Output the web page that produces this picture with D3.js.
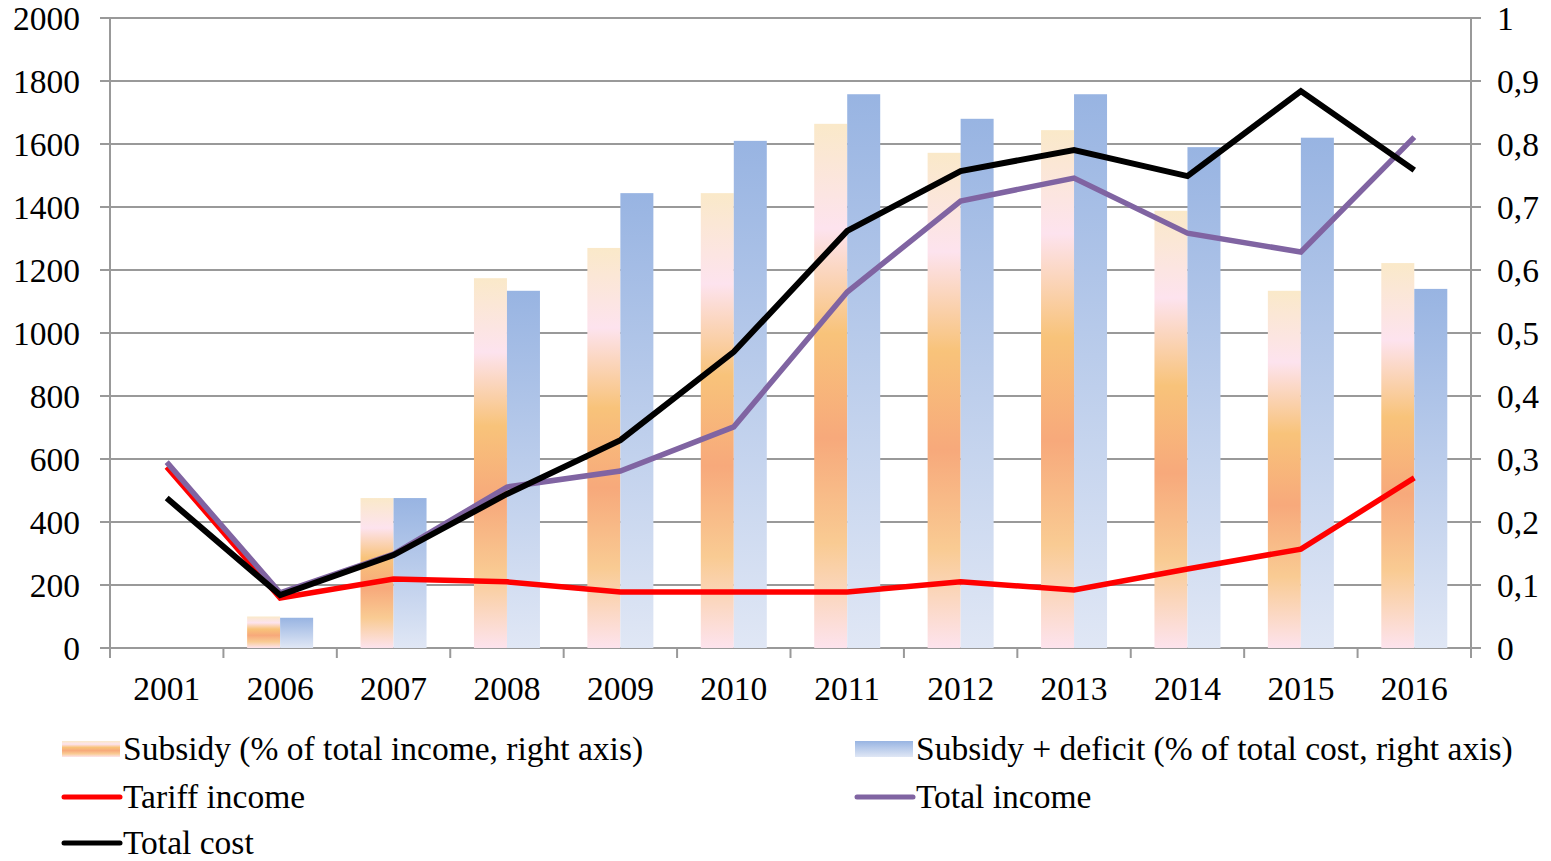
<!DOCTYPE html>
<html>
<head>
<meta charset="utf-8">
<script src="https://cdn.jsdelivr.net/npm/d3@7"></script>
<style>
  html, body { margin: 0; padding: 0; background: #fff; }
  svg { display: block; }
  text { font-family: "Liberation Serif", "Times New Roman", serif; fill: #000; }
</style>
</head>
<body>
<svg id="chart" width="1551" height="861"></svg>
<script>
// Years on the category axis
const years = ["2001", "2006", "2007", "2008", "2009", "2010", "2011", "2012", "2013", "2014", "2015", "2016"];

// Bars (share, right axis); null = no bar
const subsidyShare = [null, 0.05, 0.238, 0.587, 0.635, 0.722, 0.832, 0.786, 0.822, 0.694, 0.567, 0.611];
const subsidyDeficitShare = [null, 0.048, 0.238, 0.567, 0.722, 0.805, 0.879, 0.840, 0.879, 0.795, 0.810, 0.570];

// Lines (left axis)
const tariffIncome = [575, 159, 219, 210, 178, 178, 178, 210, 184, 251, 314, 540];
const totalIncome = [590, 175, 298, 511, 562, 702, 1130, 1419, 1492, 1317, 1257, 1622];
const totalCost = [476, 168, 295, 489, 660, 940, 1324, 1514, 1581, 1498, 1768, 1517];

// Axis ticks
const leftTicks = [0, 200, 400, 600, 800, 1000, 1200, 1400, 1600, 1800, 2000];
const rightTicks = [0, 0.1, 0.2, 0.3, 0.4, 0.5, 0.6, 0.7, 0.8, 0.9, 1];

const svg = d3.select("#chart");
const plot = { left: 110, right: 1471, top: 18, bottom: 648 };
const fontSize = 33.5;

const x = d3.scaleBand().domain(years).range([plot.left, plot.right]).padding(0);
const yL = d3.scaleLinear().domain([0, 2000]).range([plot.bottom, plot.top]);
const yR = d3.scaleLinear().domain([0, 1]).range([plot.bottom, plot.top]);

const defs = svg.append("defs");
const orangeGrad = defs.append("linearGradient").attr("id", "gOrange")
  .attr("x1", 0).attr("y1", 0).attr("x2", 0).attr("y2", 1);
[[0, "#fae9c9"], [0.2, "#fde3ee"], [0.4, "#f8c37a"], [0.6, "#f7a97b"], [0.8, "#f9cb93"], [1, "#fde3ed"]]
  .forEach(([o, c]) => orangeGrad.append("stop").attr("offset", o).attr("stop-color", c));
const blueGrad = defs.append("linearGradient").attr("id", "gBlue")
  .attr("x1", 0).attr("y1", 0).attr("x2", 0).attr("y2", 1);
[[0, "#98b4e2"], [1, "#e0e7f5"]]
  .forEach(([o, c]) => blueGrad.append("stop").attr("offset", o).attr("stop-color", c));

const gridColor = "#999999";

// Horizontal gridlines with outward ticks on both sides
svg.append("g").selectAll("line").data(leftTicks).join("line")
  .attr("x1", plot.left - 10).attr("x2", plot.right + 10)
  .attr("y1", d => yL(d)).attr("y2", d => yL(d))
  .attr("stroke", gridColor).attr("stroke-width", 2);

// Bars
const bw = x.bandwidth();
const barW = 33;
svg.append("g").selectAll("rect").data(years.map((y, i) => ({ y, v: subsidyShare[i] })).filter(d => d.v != null))
  .join("rect")
  .attr("x", d => x(d.y) + bw / 2 - barW)
  .attr("width", barW)
  .attr("y", d => yR(d.v))
  .attr("height", d => yR(0) - yR(d.v))
  .attr("fill", "url(#gOrange)");
svg.append("g").selectAll("rect").data(years.map((y, i) => ({ y, v: subsidyDeficitShare[i] })).filter(d => d.v != null))
  .join("rect")
  .attr("x", d => x(d.y) + bw / 2)
  .attr("width", barW)
  .attr("y", d => yR(d.v))
  .attr("height", d => yR(0) - yR(d.v))
  .attr("fill", "url(#gBlue)");

// Axis lines
svg.append("line").attr("x1", plot.left).attr("x2", plot.left).attr("y1", plot.top).attr("y2", plot.bottom + 10)
  .attr("stroke", gridColor).attr("stroke-width", 2);
svg.append("line").attr("x1", plot.right).attr("x2", plot.right).attr("y1", plot.top).attr("y2", plot.bottom)
  .attr("stroke", gridColor).attr("stroke-width", 2);
// Category boundary ticks
svg.append("g").selectAll("line").data(years.slice(1).concat(["end"])).join("line")
  .attr("x1", d => d === "end" ? plot.right : x(d)).attr("x2", d => d === "end" ? plot.right : x(d))
  .attr("y1", plot.bottom).attr("y2", plot.bottom + 10)
  .attr("stroke", gridColor).attr("stroke-width", 2);

// Tick labels
svg.append("g").selectAll("text").data(leftTicks).join("text")
  .attr("x", 80).attr("y", d => yL(d)).attr("dy", "0.35em")
  .attr("text-anchor", "end").attr("font-size", fontSize).text(d => d);
const fmtR = d => d3.format(".1~f")(d).replace(".", ",");
svg.append("g").selectAll("text").data(rightTicks).join("text")
  .attr("x", 1497).attr("y", d => yR(d)).attr("dy", "0.35em")
  .attr("text-anchor", "start").attr("font-size", fontSize).text(d => fmtR(d));
svg.append("g").selectAll("text").data(years).join("text")
  .attr("x", d => x(d) + bw / 2).attr("y", 700)
  .attr("text-anchor", "middle").attr("font-size", fontSize).text(d => d);

// Lines
const line = d3.line().x((d, i) => x(years[i]) + bw / 2).y(d => yL(d));
const series = [
  { vals: tariffIncome, color: "#ff0000", w: 5.5 },
  { vals: totalIncome, color: "#8064a2", w: 5.5 },
  { vals: totalCost, color: "#000000", w: 6 }
];
series.forEach(s => {
  svg.append("path").datum(s.vals).attr("d", line)
    .attr("fill", "none").attr("stroke", s.color).attr("stroke-width", s.w)
    .attr("stroke-linejoin", "miter");
});

// Legend
const legend = [
  { label: "Subsidy (% of total income, right axis)", type: "bar", fill: "url(#gOrange)", x: 62, y: 749 },
  { label: "Subsidy + deficit (% of total cost, right axis)", type: "bar", fill: "url(#gBlue)", x: 855, y: 749 },
  { label: "Tariff income", type: "line", color: "#ff0000", x: 62, y: 797 },
  { label: "Total income", type: "line", color: "#8064a2", x: 855, y: 797 },
  { label: "Total cost", type: "line", color: "#000000", x: 62, y: 843 }
];
const lg = svg.append("g");
legend.forEach(d => {
  if (d.type === "bar") {
    lg.append("rect").attr("x", d.x).attr("y", d.y - 8).attr("width", 58).attr("height", 16).attr("fill", d.fill);
  } else {
    lg.append("line").attr("x1", d.x + 2).attr("x2", d.x + 58).attr("y1", d.y).attr("y2", d.y)
      .attr("stroke", d.color).attr("stroke-width", 5).attr("stroke-linecap", "round");
  }
  lg.append("text").attr("x", d.x + 61).attr("y", d.y).attr("dy", "0.33em")
    .attr("font-size", fontSize).text(d.label);
});
</script>
</body>
</html>
